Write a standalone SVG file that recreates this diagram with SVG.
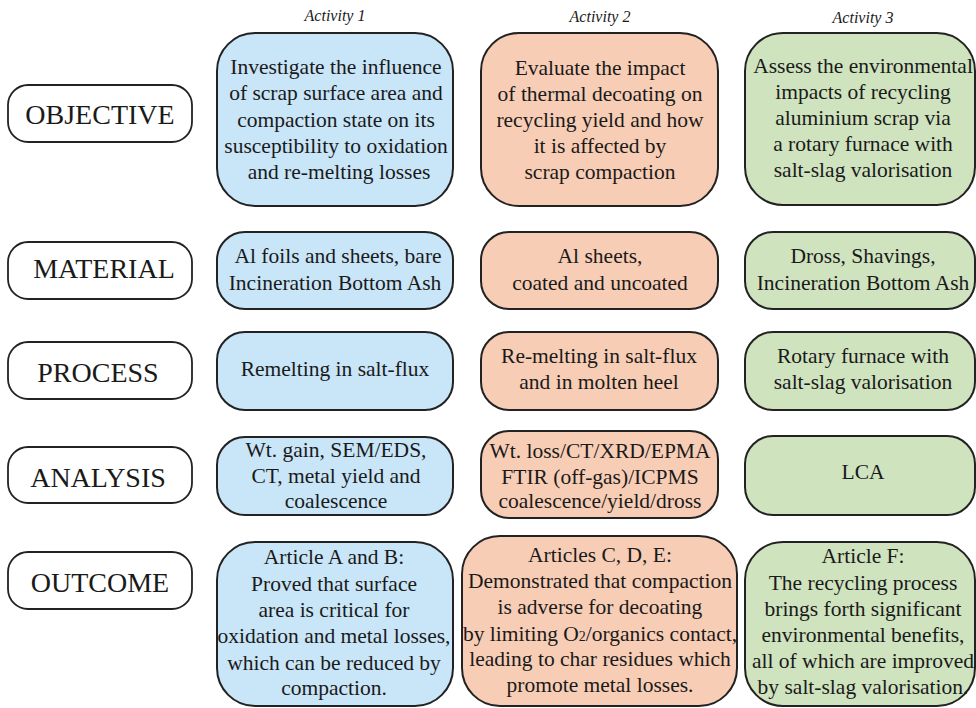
<svg xmlns="http://www.w3.org/2000/svg" width="976" height="708" viewBox="0 0 976 708" font-family="Liberation Serif, Times New Roman, serif">
<style>
.lbl rect{fill:#fff;stroke:#222;stroke-width:1.8}
.lbl text{font-size:28px;fill:#1a1a1a;text-anchor:middle}
.b rect{fill:#c9e5f8}
.o rect{fill:#f8cdb5}
.g rect{fill:#cfe3bf}
.box rect{stroke:#222;stroke-width:2}
.box text{font-size:21.5px;fill:#1a1a1a;text-anchor:middle}
.hd{font-style:italic;font-size:16px;fill:#1a1a1a;text-anchor:middle}
</style>
<rect width="976" height="708" fill="#fff"/>
<text class="hd" x="335" y="21">Activity 1</text>
<text class="hd" x="600" y="22">Activity 2</text>
<text class="hd" x="863" y="23">Activity 3</text>

<g id="lbl-objective" class="lbl"><rect x="8" y="85" width="184" height="57" rx="20"/><text x="100" y="124">OBJECTIVE</text></g>
<g id="lbl-material" class="lbl"><rect x="8" y="242" width="184" height="57" rx="20"/><text x="104" y="278">MATERIAL</text></g>
<g id="lbl-process" class="lbl"><rect x="8" y="342" width="184" height="57" rx="20"/><text x="98" y="382">PROCESS</text></g>
<g id="lbl-analysis" class="lbl"><rect x="8" y="447" width="184" height="56" rx="20"/><text x="98" y="487">ANALYSIS</text></g>
<g id="lbl-outcome" class="lbl"><rect x="8" y="552" width="184" height="57" rx="20"/><text x="100" y="592">OUTCOME</text></g>

<g id="a1-objective" class="box b"><rect x="217" y="33" width="236" height="173" rx="38"/>
<text x="336" y="74">Investigate the influence</text><text x="336" y="100">of scrap surface area and</text><text x="336" y="127">compaction state on its</text><text x="336" y="153">susceptibility to oxidation</text><text x="339" y="179">and re-melting losses</text></g>
<g id="a2-objective" class="box o"><rect x="481" y="33" width="237" height="173" rx="38"/>
<text x="600" y="75">Evaluate the impact</text><text x="600" y="101">of thermal decoating on</text><text x="600" y="127">recycling yield and how</text><text x="600" y="153">it is affected by</text><text x="600" y="179">scrap compaction</text></g>
<g id="a3-objective" class="box g"><rect x="745" y="33" width="230" height="172" rx="38"/>
<text x="863" y="73">Assess the environmental</text><text x="863" y="99">impacts of recycling</text><text x="863" y="125">aluminium scrap via</text><text x="863" y="151">a rotary furnace with</text><text x="863" y="177">salt-slag valorisation</text></g>

<g id="a1-material" class="box b"><rect x="217" y="232" width="236" height="77" rx="28"/>
<text x="338" y="263">Al foils and sheets, bare</text><text x="335" y="290">Incineration Bottom Ash</text></g>
<g id="a2-material" class="box o"><rect x="481" y="232" width="237" height="77" rx="28"/>
<text x="600" y="263">Al sheets,</text><text x="600" y="290">coated and uncoated</text></g>
<g id="a3-material" class="box g"><rect x="745" y="232" width="230" height="77" rx="28"/>
<text x="863" y="263">Dross, Shavings,</text><text x="863" y="290">Incineration Bottom Ash</text></g>

<g id="a1-process" class="box b"><rect x="217" y="332" width="236" height="78" rx="28"/>
<text x="335" y="376">Remelting in salt-flux</text></g>
<g id="a2-process" class="box o"><rect x="481" y="332" width="237" height="78" rx="28"/>
<text x="599" y="363">Re-melting in salt-flux</text><text x="599" y="389">and in molten heel</text></g>
<g id="a3-process" class="box g"><rect x="745" y="332" width="230" height="78" rx="28"/>
<text x="863" y="363">Rotary furnace with</text><text x="863" y="389">salt-slag valorisation</text></g>

<g id="a1-analysis" class="box b"><rect x="217" y="437" width="236" height="78" rx="28"/>
<text x="336" y="457">Wt. gain, SEM/EDS,</text><text x="336" y="483">CT, metal yield and</text><text x="336" y="508">coalescence</text></g>
<g id="a2-analysis" class="box o"><rect x="481" y="431" width="237" height="87" rx="28"/>
<text x="600" y="458">Wt. loss/CT/XRD/EPMA</text><text x="600" y="484">FTIR (off-gas)/ICPMS</text><text x="600" y="508">coalescence/yield/dross</text></g>
<g id="a3-analysis" class="box g"><rect x="745" y="436" width="230" height="79" rx="28"/>
<text x="863" y="479">LCA</text></g>

<g id="a1-outcome" class="box b"><rect x="217" y="542" width="236" height="164" rx="38"/>
<text x="334" y="564">Article A and B:</text><text x="334" y="591">Proved that surface</text><text x="334" y="617">area is critical for</text><text x="334" y="643">oxidation and metal losses,</text><text x="334" y="670">which can be reduced by</text><text x="334" y="695">compaction.</text></g>
<g id="a2-outcome" class="box o"><rect x="462" y="536" width="275" height="170" rx="38"/>
<text x="600" y="562">Articles C, D, E:</text><text x="600" y="588">Demonstrated that compaction</text><text x="600" y="614">is adverse for decoating</text><text x="600" y="641">by limiting O<tspan font-size="14">2</tspan>/organics contact,</text><text x="600" y="666">leading to char residues which</text><text x="600" y="692">promote metal losses.</text></g>
<g id="a3-outcome" class="box g"><rect x="745" y="542" width="230" height="164" rx="38"/>
<text x="863" y="563">Article F:</text><text x="863" y="590">The recycling process</text><text x="863" y="616">brings forth significant</text><text x="863" y="642">environmental benefits,</text><text x="863" y="668">all of which are improved</text><text x="863" y="694">by salt-slag valorisation.</text></g>
<g id="connectors"/>
</svg>
